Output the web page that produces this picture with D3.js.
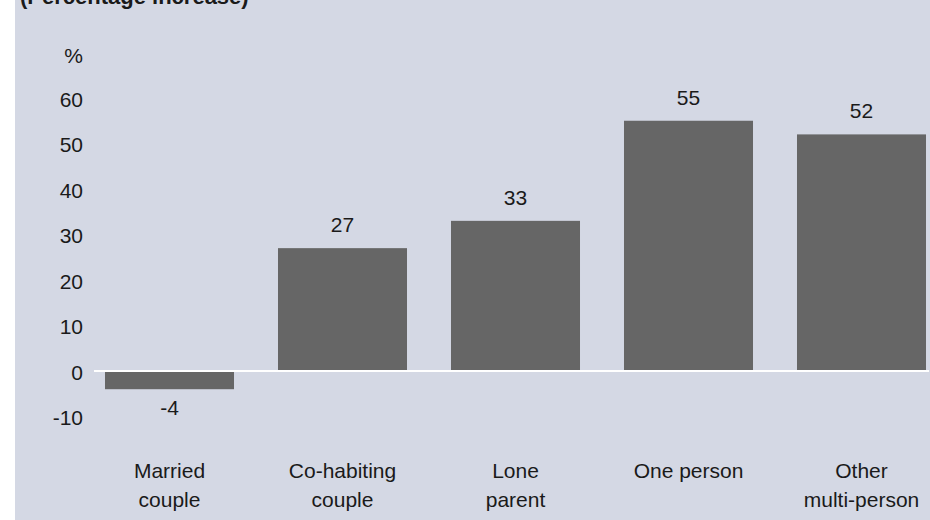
<!DOCTYPE html>
<html>
<head>
<meta charset="utf-8">
<script src="https://cdn.jsdelivr.net/npm/d3@7"></script>
<style>
  html, body { margin: 0; padding: 0; background: #ffffff; }
  svg { display: block; }
  text { font-family: "Liberation Sans", Arial, sans-serif; fill: #1a1a1a; }
</style>
</head>
<body>
<svg id="chart" width="930" height="520"></svg>
<script>
// Household types and their percentage change
const categories = [
  ["Married", "couple"],
  ["Co-habiting", "couple"],
  ["Lone", "parent"],
  ["One person"],
  ["Other", "multi-person"]
];
const values = [-4, 27, 33, 55, 52];
const yTicks = [-10, 0, 10, 20, 30, 40, 50, 60];
const titleText = "(Percentage increase)";
const unitLabel = "%";

const svg = d3.select("#chart");
const W = 930, H = 520;

// panel background
svg.append("rect")
  .attr("x", 15).attr("y", 0)
  .attr("width", W - 15).attr("height", H)
  .attr("fill", "#d4d8e4");

// title, sitting partly above the top edge of the panel
svg.append("text")
  .attr("x", 20).attr("y", 4)
  .attr("font-size", 22)
  .attr("font-weight", "bold")
  .attr("fill", "#000000")
  .text(titleText);

const keys = categories.map(c => c.join(" "));

const x = d3.scaleBand()
  .domain(keys)
  .range([83, 948])
  .paddingInner(0.2543)
  .paddingOuter(0.2543 / 2);

const y = d3.scaleLinear()
  .domain([-10, 60])
  .range([416.5, 98]);

// y axis labels (no line, no ticks)
const yAxis = d3.axisLeft(y)
  .tickValues(yTicks)
  .tickSize(0)
  .tickPadding(0)
  .tickFormat(d => String(d));

const gy = svg.append("g")
  .attr("transform", "translate(83,1.5)")
  .call(yAxis);
gy.select(".domain").remove();
gy.selectAll("text")
  .attr("font-size", 21)
  .attr("font-family", "Liberation Sans, Arial, sans-serif")
  .attr("fill", "#1a1a1a");

svg.append("text")
  .attr("x", 83).attr("y", 63)
  .attr("text-anchor", "end")
  .attr("font-size", 21)
  .text(unitLabel);

// bars
svg.append("g").selectAll("rect")
  .data(values)
  .join("rect")
  .attr("x", (d, i) => x(keys[i]))
  .attr("width", x.bandwidth())
  .attr("y", d => y(Math.max(0, d)))
  .attr("height", d => Math.abs(y(d) - y(0)))
  .attr("fill", "#666666");

// zero line
svg.append("line")
  .attr("x1", 94).attr("x2", 929)
  .attr("y1", y(0)).attr("y2", y(0))
  .attr("stroke", "#ffffff")
  .attr("stroke-width", 2.2);

// value labels
svg.append("g").selectAll("text")
  .data(values)
  .join("text")
  .attr("x", (d, i) => x(keys[i]) + x.bandwidth() / 2)
  .attr("y", d => d >= 0 ? y(d) - 16 : y(d) + 26)
  .attr("text-anchor", "middle")
  .attr("font-size", 21)
  .text(d => String(d));

// category labels
const cat = svg.append("g").selectAll("text")
  .data(categories)
  .join("text")
  .attr("text-anchor", "middle")
  .attr("font-size", 21)
  .attr("x", (d, i) => x(keys[i]) + x.bandwidth() / 2)
  .attr("y", 478);
cat.selectAll("tspan")
  .data(d => d)
  .join("tspan")
  .attr("x", function () { return d3.select(this.parentNode).attr("x"); })
  .attr("dy", (d, i) => i === 0 ? 0 : 29)
  .text(d => d);
</script>
</body>
</html>
